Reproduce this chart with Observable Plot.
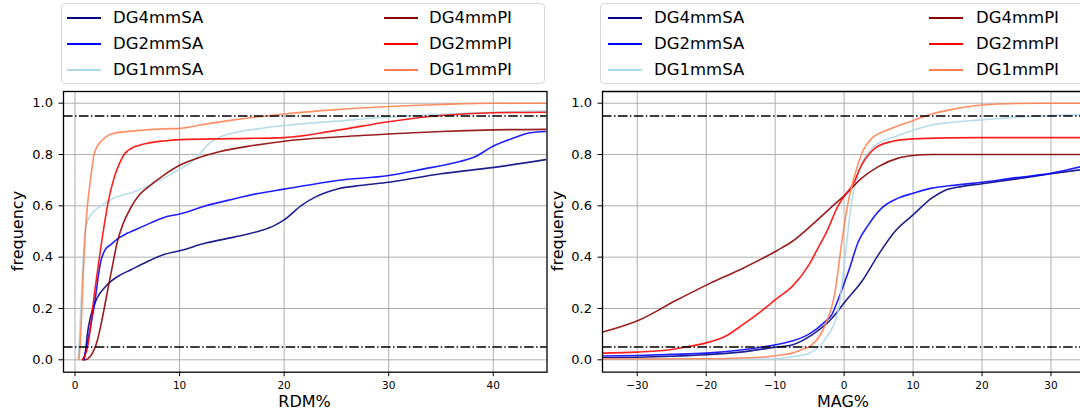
<!DOCTYPE html>
<html>
<head>
<meta charset="utf-8">
<script src="https://cdn.jsdelivr.net/npm/d3@7"></script>
<script src="https://cdn.jsdelivr.net/npm/@observablehq/plot@0.6"></script>
<style>
html, body { margin: 0; padding: 0; background: #fff; overflow: hidden; width: 1080px; height: 419px; }
body { position: relative; font-family: "DejaVu Sans", sans-serif; color: #000; }
.panel { position: absolute; top: 85px; }
.legend { position: absolute; top: 3px; height: 81px; border: 1px solid #d9d9d9; border-radius: 4px; background: #fff; box-sizing: border-box; }
.entry { position: absolute; font-size: 16.5px; line-height: 20px; white-space: nowrap; }
.swatch { position: absolute; height: 2px; }
.xlabel { position: absolute; font-size: 16px; line-height: 19px; transform: translateX(-50%); white-space: nowrap; }
.ylabel { position: absolute; font-size: 16px; line-height: 19px; transform: translate(-50%, -50%) rotate(-90deg); white-space: nowrap; }
</style>
</head>
<body>
<script>
// ---------- data ----------
const seriesNames = ["DG4mmSA", "DG2mmSA", "DG1mmSA", "DG4mmPI", "DG2mmPI", "DG1mmPI"];
const yTicks = [0, 0.2, 0.4, 0.6, 0.8, 1.0];
const rdmTicks = [0, 10, 20, 30, 40];
const magTicks = [-30, -20, -10, 0, 10, 20, 30];
const refLevels = [0.05, 0.95];

// RDM% panel
const rdmX_DG4mmSA = [0.85,1.0,1.18,1.5,2.1,2.8,3.4,4.3,5.3,6.8,8.5,10.1,12.5,15.2,17.8,19,20,21.6,23,25.1,27.5,30,35,40.1,45];
const rdmF_DG4mmSA = [0,0.03,0.10,0.17,0.24,0.28,0.305,0.33,0.35,0.38,0.41,0.426,0.455,0.478,0.504,0.522,0.545,0.60,0.635,0.666,0.68,0.692,0.725,0.75,0.78];
const rdmX_DG2mmSA = [0.85,1.0,1.3,1.8,2.46,2.9,3.4,4.2,5.0,6.5,8.5,10.1,12.5,15.2,17.5,20,25.1,30,33.4,36,38.2,40.1,42,43.5,45];
const rdmF_DG2mmSA = [0,0.03,0.09,0.20,0.383,0.43,0.448,0.475,0.493,0.52,0.555,0.569,0.60,0.627,0.648,0.665,0.699,0.718,0.744,0.765,0.79,0.835,0.865,0.885,0.89];
const rdmX_DG1mmSA = [0.3,0.5,0.7,0.9,1.18,1.8,2.5,3.7,5.7,8.5,10.1,11.4,12.3,13,14,15.2,17.5,20,25,30,35,40,45];
const rdmF_DG1mmSA = [0,0.15,0.33,0.47,0.54,0.578,0.60,0.63,0.655,0.708,0.745,0.78,0.82,0.848,0.87,0.885,0.90,0.913,0.93,0.946,0.957,0.965,0.97];
const rdmX_DG4mmPI = [1.0,1.5,2.1,2.6,3.1,3.6,4.05,4.6,5.3,6.1,6.9,8.5,10.1,12,13.7,17,20,25,30,35,40,45];
const rdmF_DG4mmPI = [0,0.015,0.07,0.16,0.266,0.37,0.46,0.53,0.59,0.64,0.67,0.72,0.76,0.79,0.81,0.835,0.852,0.868,0.88,0.89,0.896,0.898];
const rdmX_DG2mmPI = [0.7,1.2,1.5,1.8,2.2,2.8,3.1,3.73,4.1,4.7,5.7,6.3,8.5,10.1,15,20,25,30,35,40,45];
const rdmF_DG2mmPI = [0,0.05,0.13,0.24,0.36,0.526,0.60,0.708,0.75,0.80,0.83,0.838,0.853,0.858,0.862,0.866,0.894,0.928,0.952,0.963,0.965];
const rdmX_DG1mmPI = [0.38,0.55,0.7,0.86,1.1,1.34,1.6,1.82,2.1,2.46,3.0,3.73,5.7,8.5,10.1,12,15.2,20,25,30,35,40,45];
const rdmF_DG1mmPI = [0,0.10,0.25,0.40,0.56,0.656,0.74,0.80,0.83,0.85,0.87,0.883,0.892,0.90,0.902,0.915,0.935,0.958,0.975,0.987,0.995,1.0,1.0];

// MAG% panel
const magX_DG4mmSA = [-35,-30,-25,-20,-15,-9.7,-7.55,-4.66,-1.77,0.15,2.55,4.96,7.36,10,12.7,14.6,17,20,25,30,35];
const magF_DG4mmSA = [0.008,0.01,0.014,0.02,0.03,0.05,0.058,0.097,0.162,0.227,0.305,0.409,0.50,0.565,0.63,0.66,0.675,0.686,0.705,0.725,0.743];
const magX_DG2mmSA = [-35,-30,-25,-20,-15,-9.7,-7.55,-5.1,-2.74,-1.8,-0.8,0.63,2.07,3.52,5.44,7.85,10,12.7,15.5,20,25,30,35];
const magF_DG2mmSA = [0.015,0.017,0.021,0.026,0.038,0.06,0.073,0.10,0.149,0.175,0.24,0.344,0.461,0.526,0.591,0.63,0.649,0.669,0.679,0.692,0.71,0.727,0.757];
const magX_DG1mmSA = [-35,-20,-12,-9.7,-7.55,-5.1,-3.7,-2.25,-1.3,-0.8,-0.2,0.4,0.9,1.35,2.0,2.55,4.0,5,6.9,10,12.7,15.5,20,25,30,35];
const magF_DG1mmSA = [0.002,0.002,0.003,0.004,0.012,0.025,0.05,0.10,0.15,0.2,0.32,0.46,0.58,0.655,0.72,0.765,0.823,0.845,0.865,0.895,0.915,0.925,0.935,0.945,0.952,0.957];
const magX_DG4mmPI = [-35,-29.7,-24.4,-19.6,-14.8,-9.7,-7.55,-4.66,-1.77,0.15,2.55,4.96,7.85,10,12.7,20,30,35];
const magF_DG4mmPI = [0.108,0.155,0.231,0.296,0.355,0.426,0.461,0.526,0.597,0.643,0.708,0.753,0.786,0.796,0.80,0.80,0.80,0.80];
const magX_DG2mmPI = [-35,-30,-25,-22.9,-20,-17,-14.8,-12,-9.7,-7.55,-5.1,-3.5,-2.74,-0.8,0.63,1.1,2.55,4.5,6.9,10,15,20,35];
const magF_DG2mmPI = [0.026,0.03,0.04,0.05,0.066,0.095,0.135,0.19,0.24,0.285,0.37,0.45,0.487,0.604,0.66,0.675,0.76,0.825,0.851,0.861,0.865,0.866,0.866];
const magX_DG1mmPI = [-35,-20,-12,-9.7,-7.55,-6.1,-4.66,-2.74,-1.3,-0.33,0.63,1.1,1.83,2.8,4.0,6.9,10,12.7,15.5,20,25,30,35];
const magF_DG1mmPI = [0.003,0.004,0.01,0.017,0.026,0.04,0.058,0.136,0.266,0.46,0.62,0.675,0.746,0.818,0.863,0.902,0.932,0.958,0.975,0.993,0.999,1.0,1.0];

// ---------- styles ----------
const seriesColors = ["#000080", "#0000ff", "#add8e6", "#8b0000", "#ff0000", "#ff7f50"];
const gridColor = "#b0b0b0";

function toRows(list) {
  const out = [];
  for (const [name, xs, fs] of list) xs.forEach((x, i) => out.push({series: name, x, f: fs[i]}));
  return out;
}
const rdmRows = toRows([
  ["DG4mmSA", rdmX_DG4mmSA, rdmF_DG4mmSA], ["DG2mmSA", rdmX_DG2mmSA, rdmF_DG2mmSA],
  ["DG1mmSA", rdmX_DG1mmSA, rdmF_DG1mmSA], ["DG4mmPI", rdmX_DG4mmPI, rdmF_DG4mmPI],
  ["DG2mmPI", rdmX_DG2mmPI, rdmF_DG2mmPI], ["DG1mmPI", rdmX_DG1mmPI, rdmF_DG1mmPI]
]);
const magRows = toRows([
  ["DG4mmSA", magX_DG4mmSA, magF_DG4mmSA], ["DG2mmSA", magX_DG2mmSA, magF_DG2mmSA],
  ["DG1mmSA", magX_DG1mmSA, magF_DG1mmSA], ["DG4mmPI", magX_DG4mmPI, magF_DG4mmPI],
  ["DG2mmPI", magX_DG2mmPI, magF_DG2mmPI], ["DG1mmPI", magX_DG1mmPI, magF_DG1mmPI]
]);

const yDomain = [-0.0483, 1.0456];

function panel({rows, xDomain, xTicks, width, marginLeft, marginRight, fullFrame}) {
  const frameMarks = fullFrame
    ? [Plot.frame({stroke: "#000", strokeWidth: 1.3})]
    : [Plot.ruleX([xDomain[0]], {stroke: "#000", strokeWidth: 1.3}),
       Plot.ruleY([yDomain[0], yDomain[1]], {stroke: "#000", strokeWidth: 1.3})];
  return Plot.plot({
    width, height: 334,
    marginTop: 6, marginBottom: 47.3, marginLeft, marginRight,
    style: {fontFamily: "DejaVu Sans, sans-serif", background: "transparent", color: "#000"},
    x: {domain: xDomain, label: null},
    y: {domain: yDomain, label: null},
    color: {domain: seriesNames, range: seriesColors},
    marks: [
      Plot.gridX(xTicks, {stroke: gridColor, strokeOpacity: 1, strokeWidth: 1}),
      Plot.gridY(yTicks, {stroke: gridColor, strokeOpacity: 1, strokeWidth: 1}),
      Plot.line(rows, {x: "x", y: "f", z: "series", stroke: "series", strokeWidth: 1.6, strokeOpacity: 0.88, curve: "monotone-x", clip: true}),
      Plot.ruleY(refLevels, {stroke: "#000", strokeWidth: 1.5, strokeDasharray: "9.6,2.4,1.5,2.4"}),
      Plot.axisX(xTicks, {tickSize: 4.5, tickPadding: 5, fontSize: 10.5, label: null, stroke: "#000"}),
      Plot.axisY(yTicks, {tickSize: 4.5, tickPadding: 6, fontSize: 13, label: null, tickFormat: d3.format(".1f"), stroke: "#000"}),
      ...frameMarks
    ]
  });
}

function place(el, left) {
  const wrap = document.createElement("div");
  wrap.className = "panel";
  wrap.style.left = left + "px";
  wrap.appendChild(el);
  document.body.appendChild(wrap);
}

place(panel({rows: rdmRows, xDomain: [-1.1, 45.14], xTicks: rdmTicks, width: 550, marginLeft: 63, marginRight: 3.5, fullFrame: true}), 0);
place(panel({rows: magRows, xDomain: [-35.04, 34.28], xTicks: magTicks, width: 530, marginLeft: 52, marginRight: 0, fullFrame: false}), 550);

// legends
function legend(boxLeft, boxWidth, cols) {
  const box = document.createElement("div");
  box.className = "legend";
  box.style.left = boxLeft + "px";
  box.style.width = boxWidth + "px";
  const rowCenters = [14, 40, 66];
  seriesNames.forEach((name, i) => {
    const col = cols[Math.floor(i / 3)];
    const cy = rowCenters[i % 3];
    const sw = document.createElement("div");
    sw.className = "swatch";
    sw.style.left = col.line + "px";
    sw.style.width = "34px";
    sw.style.top = (cy - 1) + "px";
    sw.style.background = seriesColors[i];
    const tx = document.createElement("div");
    tx.className = "entry";
    tx.style.left = col.text + "px";
    tx.style.top = (cy - 10) + "px";
    tx.textContent = name;
    box.appendChild(sw);
    box.appendChild(tx);
  });
  document.body.appendChild(box);
}
legend(61, 484, [{line: 5, text: 51}, {line: 322, text: 367}]);
legend(600, 500, [{line: 7, text: 53}, {line: 328, text: 375}]);

// axis titles
function label(cls, text, left, top) {
  const d = document.createElement("div");
  d.className = cls;
  d.textContent = text;
  d.style.left = left + "px";
  d.style.top = top + "px";
  document.body.appendChild(d);
}
label("xlabel", "RDM%", 304.5, 392);
label("xlabel", "MAG%", 843, 392);
label("ylabel", "frequency", 17, 231);
label("ylabel", "frequency", 557, 231);
</script>
</body>
</html>
